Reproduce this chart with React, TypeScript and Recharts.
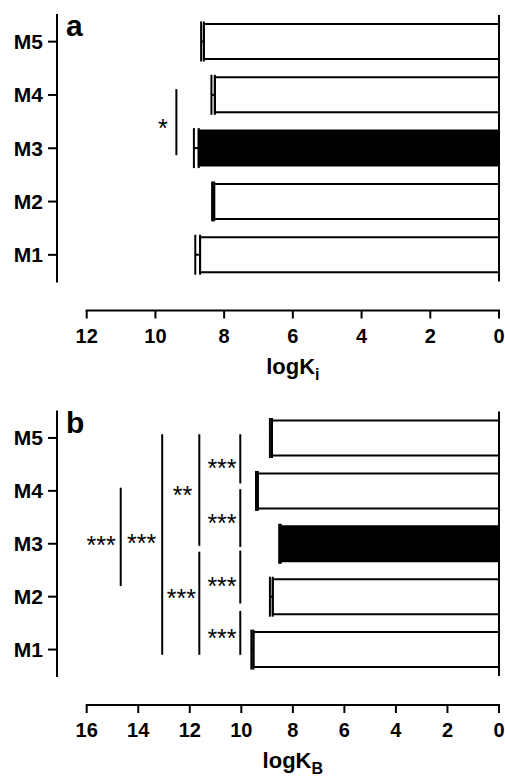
import React from 'react';
import { BarChart, Bar, XAxis, YAxis, ErrorBar, Cell, ReferenceLine, ReferenceDot } from 'recharts';

// rows from top to bottom
const models = ['M5', 'M4', 'M3', 'M2', 'M1'];
const logKi = [8.59, 8.27, 8.74, 8.29, 8.70];
const logKiErr = [0.08, 0.10, 0.14, 0.06, 0.14];
const logKB = [8.81, 9.36, 8.47, 8.78, 9.53];
const logKBErr = [0.08, 0.07, 0.06, 0.11, 0.08];
const ticksA = [0, 2, 4, 6, 8, 10, 12];
const ticksB = [0, 2, 4, 6, 8, 10, 12, 14, 16];
const highlighted = 'M3';

// significance marks: x in log units, y in rows counted from the top (M5 row = 0..1)
const bracketsA = [{ x: 9.39, y1: 1.39, y2: 2.63 }];
const starsA = [{ x: 9.78, y: 2.03, text: '*' }];
const bracketsB = [
  { x: 14.68, y1: 1.44, y2: 3.3 },
  { x: 13.07, y1: 0.43, y2: 4.6 },
  { x: 11.63, y1: 0.43, y2: 2.54 },
  { x: 11.63, y1: 2.65, y2: 4.6 },
  { x: 10.04, y1: 0.43, y2: 1.36 },
  { x: 10.04, y1: 1.47, y2: 2.56 },
  { x: 10.04, y1: 2.63, y2: 3.63 },
  { x: 10.04, y1: 3.77, y2: 4.6 },
];
const starsB = [
  { x: 15.44, y: 2.43, text: '***' },
  { x: 13.87, y: 2.4, text: '***' },
  { x: 12.28, y: 1.48, text: '**' },
  { x: 12.33, y: 3.44, text: '***' },
  { x: 10.75, y: 0.97, text: '***' },
  { x: 10.75, y: 2.02, text: '***' },
  { x: 10.75, y: 3.2, text: '***' },
  { x: 10.75, y: 4.18, text: '***' },
];

const FONT = '"Liberation Sans", Arial, Helvetica, sans-serif';
const W = 505;
const YAXIS_W = 57;
const RIGHT = 6;
const GAP = 29; // offset between the bar area and the x axis
const AXIS_H = 40;
const TICK_SPAN = 412.3; // px from first to last x tick

interface PanelProps {
  letter: string;
  values: number[];
  errors: number[];
  ticks: number[];
  sub: string;
  brackets: { x: number; y1: number; y2: number }[];
  stars: { x: number; y: number; text: string }[];
  height: number;
  top: number;
  bottom: number;
}

const Panel: React.FC<PanelProps> = ({ letter, values, errors, ticks, sub, brackets, stars, height, top, bottom }) => {
  const data = models.map((name, i) => ({ name, value: values[i], err: [0, errors[i]] }));
  const tickMax = ticks[ticks.length - 1];
  const plotW = W - YAXIS_W - RIGHT;
  const xMax = (tickMax * plotW) / TICK_SPAN;
  const plotH = height - top - bottom - AXIS_H;
  const rowH = (plotH - GAP) / models.length;
  const frameMax = models.length + GAP / rowH;
  const line = { stroke: '#000', strokeWidth: 2, ifOverflow: 'visible' as const, yAxisId: 'frame' };

  return (
    <BarChart
      width={W}
      height={height}
      data={data}
      layout="vertical"
      margin={{ top, right: RIGHT, left: 0, bottom }}
    >
      <XAxis
        type="number"
        domain={[0, xMax]}
        allowDataOverflow
        reversed
        ticks={ticks}
        interval={0}
        axisLine={false}
        tickLine={{ stroke: '#000', strokeWidth: 2 }}
        tickSize={8}
        tickMargin={10}
        height={AXIS_H}
        tick={{ fill: '#000', fontSize: 20, fontWeight: 'bold', fontFamily: FONT }}
      />
      <YAxis
        type="category"
        dataKey="name"
        width={YAXIS_W}
        interval={0}
        axisLine={false}
        tickLine={{ stroke: '#000', strokeWidth: 2 }}
        tickSize={9}
        tickMargin={5}
        padding={{ top: 0, bottom: GAP }}
        tick={{ fill: '#000', fontSize: 21, fontWeight: 'bold', fontFamily: FONT }}
      />
      {/* hidden continuous axis in row units, used to place the frame and the significance marks */}
      <YAxis yAxisId="frame" dataKey="value" type="number" domain={[0, frameMax]} allowDataOverflow hide />

      <Bar dataKey="value" barSize={35} stroke="#000" strokeWidth={2} isAnimationActive={false}>
        {data.map(d => (
          <Cell key={d.name} fill={d.name === highlighted ? '#000' : '#fff'} />
        ))}
        <ErrorBar dataKey="err" direction="x" width={20} stroke="#000" strokeWidth={2} isAnimationActive={false} />
      </Bar>

      {/* offset axes */}
      <ReferenceLine {...line} strokeLinecap="square" segment={[{ x: xMax, y: 0 }, { x: xMax, y: models.length }]} />
      <ReferenceLine {...line} segment={[{ x: 0, y: 0 }, { x: 0, y: models.length }]} />
      <ReferenceLine {...line} strokeLinecap="square" segment={[{ x: 0, y: frameMax }, { x: tickMax, y: frameMax }]} />

      {brackets.map((b, i) => (
        <ReferenceLine key={'br' + i} {...line} segment={[{ x: b.x, y: b.y1 }, { x: b.x, y: b.y2 }]} />
      ))}
      {stars.map((s, i) => (
        <ReferenceDot
          key={'st' + i}
          x={s.x}
          y={s.y}
          yAxisId="frame"
          ifOverflow="visible"
          shape={(p: any) => (
            <text x={p.cx} y={p.cy + 14} textAnchor="middle" fontSize={25} fontFamily={FONT} fill="#000">
              {s.text}
            </text>
          )}
        />
      ))}

      {/* panel letter */}
      <ReferenceDot
        x={xMax}
        y={0}
        yAxisId="frame"
        ifOverflow="visible"
        shape={(p: any) => (
          <text x={p.cx + 9} y={p.cy + 21} fontSize={30} fontWeight="bold" fontFamily={FONT} fill="#000">
            {letter}
          </text>
        )}
      />
      {/* axis title */}
      <ReferenceDot
        x={tickMax / 2}
        y={frameMax}
        yAxisId="frame"
        ifOverflow="visible"
        shape={(p: any) => (
          <text x={p.cx} y={p.cy + 63} textAnchor="middle" fontSize={22} fontWeight="bold" fontFamily={FONT} fill="#000">
            logK
            <tspan fontSize={16} dy={6}>
              {sub}
            </tspan>
          </text>
        )}
      />
    </BarChart>
  );
};

export default function App() {
  return (
    <div style={{ position: 'absolute', left: 0, top: 0, width: W, height: 776, background: '#fff' }}>
      <Panel
        letter="a"
        values={logKi}
        errors={logKiErr}
        ticks={ticksA}
        sub="i"
        brackets={bracketsA}
        stars={starsA}
        height={390}
        top={15}
        bottom={39.5}
      />
      <Panel
        letter="b"
        values={logKB}
        errors={logKBErr}
        ticks={ticksB}
        sub="B"
        brackets={bracketsB}
        stars={starsB}
        height={386}
        top={21.5}
        bottom={31}
      />
    </div>
  );
}
